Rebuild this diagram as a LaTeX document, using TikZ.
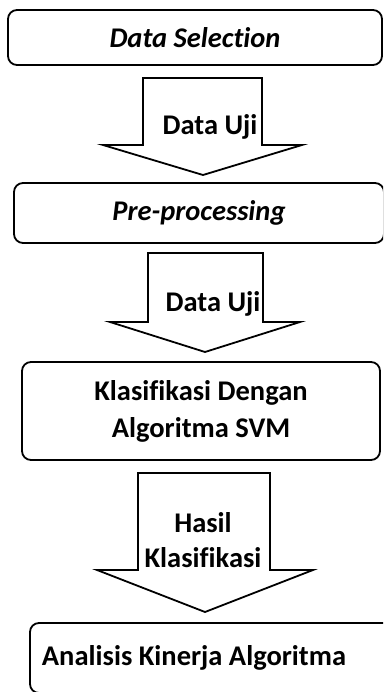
\documentclass[tikz,border=0pt]{standalone}
\usepackage{fontspec}
\setmainfont[Ligatures=NoCommon]{Carlito}
\begin{document}
\begin{tikzpicture}[x=1pt, y=-1pt, line join=miter]
\tikzstyle{tx}=[font=\fontsize{28.5}{36}\selectfont\bfseries, align=center]
\tikzstyle{box}=[tx, draw, line width=1.8pt, rounded corners=9pt, inner sep=0pt]
\tikzstyle{blockarrow}=[draw, line width=1.8pt]
\useasboundingbox (0,0) rectangle (383,692);
\clip (0,0) rectangle (383,692);

\node[box, minimum width=374pt, minimum height=55pt] (sel) at (195,37.5) {\itshape Data Selection};
\node[box, minimum width=370pt, minimum height=60pt] (pre) at (199,213) {\itshape Pre-processing};
\node[box, minimum width=358pt, minimum height=98pt, font=\fontsize{28.5}{37}\selectfont\bfseries] (svm) at (201,411) {Klasifikasi Dengan\\Algoritma SVM};
\node[box, minimum width=362pt, minimum height=70pt] (ana) at (211,658) {};
\node[tx] (anatx) at (194,658) {Analisis Kinerja Algoritma};

\draw[blockarrow] (143,78) -- (262,78) -- (262,145) -- (302,145) -- (203,175) -- (103,145) -- (143,145) -- cycle;
\draw[blockarrow] (148,253) -- (263,253) -- (263,322) -- (300,322) -- (205,352) -- (110,322) -- (148,322) -- cycle;
\draw[blockarrow] (138,473) -- (270,473) -- (270,570) -- (313,570) -- (205,612) -- (97,570) -- (138,570) -- cycle;

\node[tx] (uji1) at (210,127) {Data Uji};
\node[tx] (uji2) at (213,304) {Data Uji};
\node[tx, font=\fontsize{28.5}{35}\selectfont\bfseries] (hasil) at (203,540) {Hasil\\Klasifikasi};
\end{tikzpicture}
\end{document}
